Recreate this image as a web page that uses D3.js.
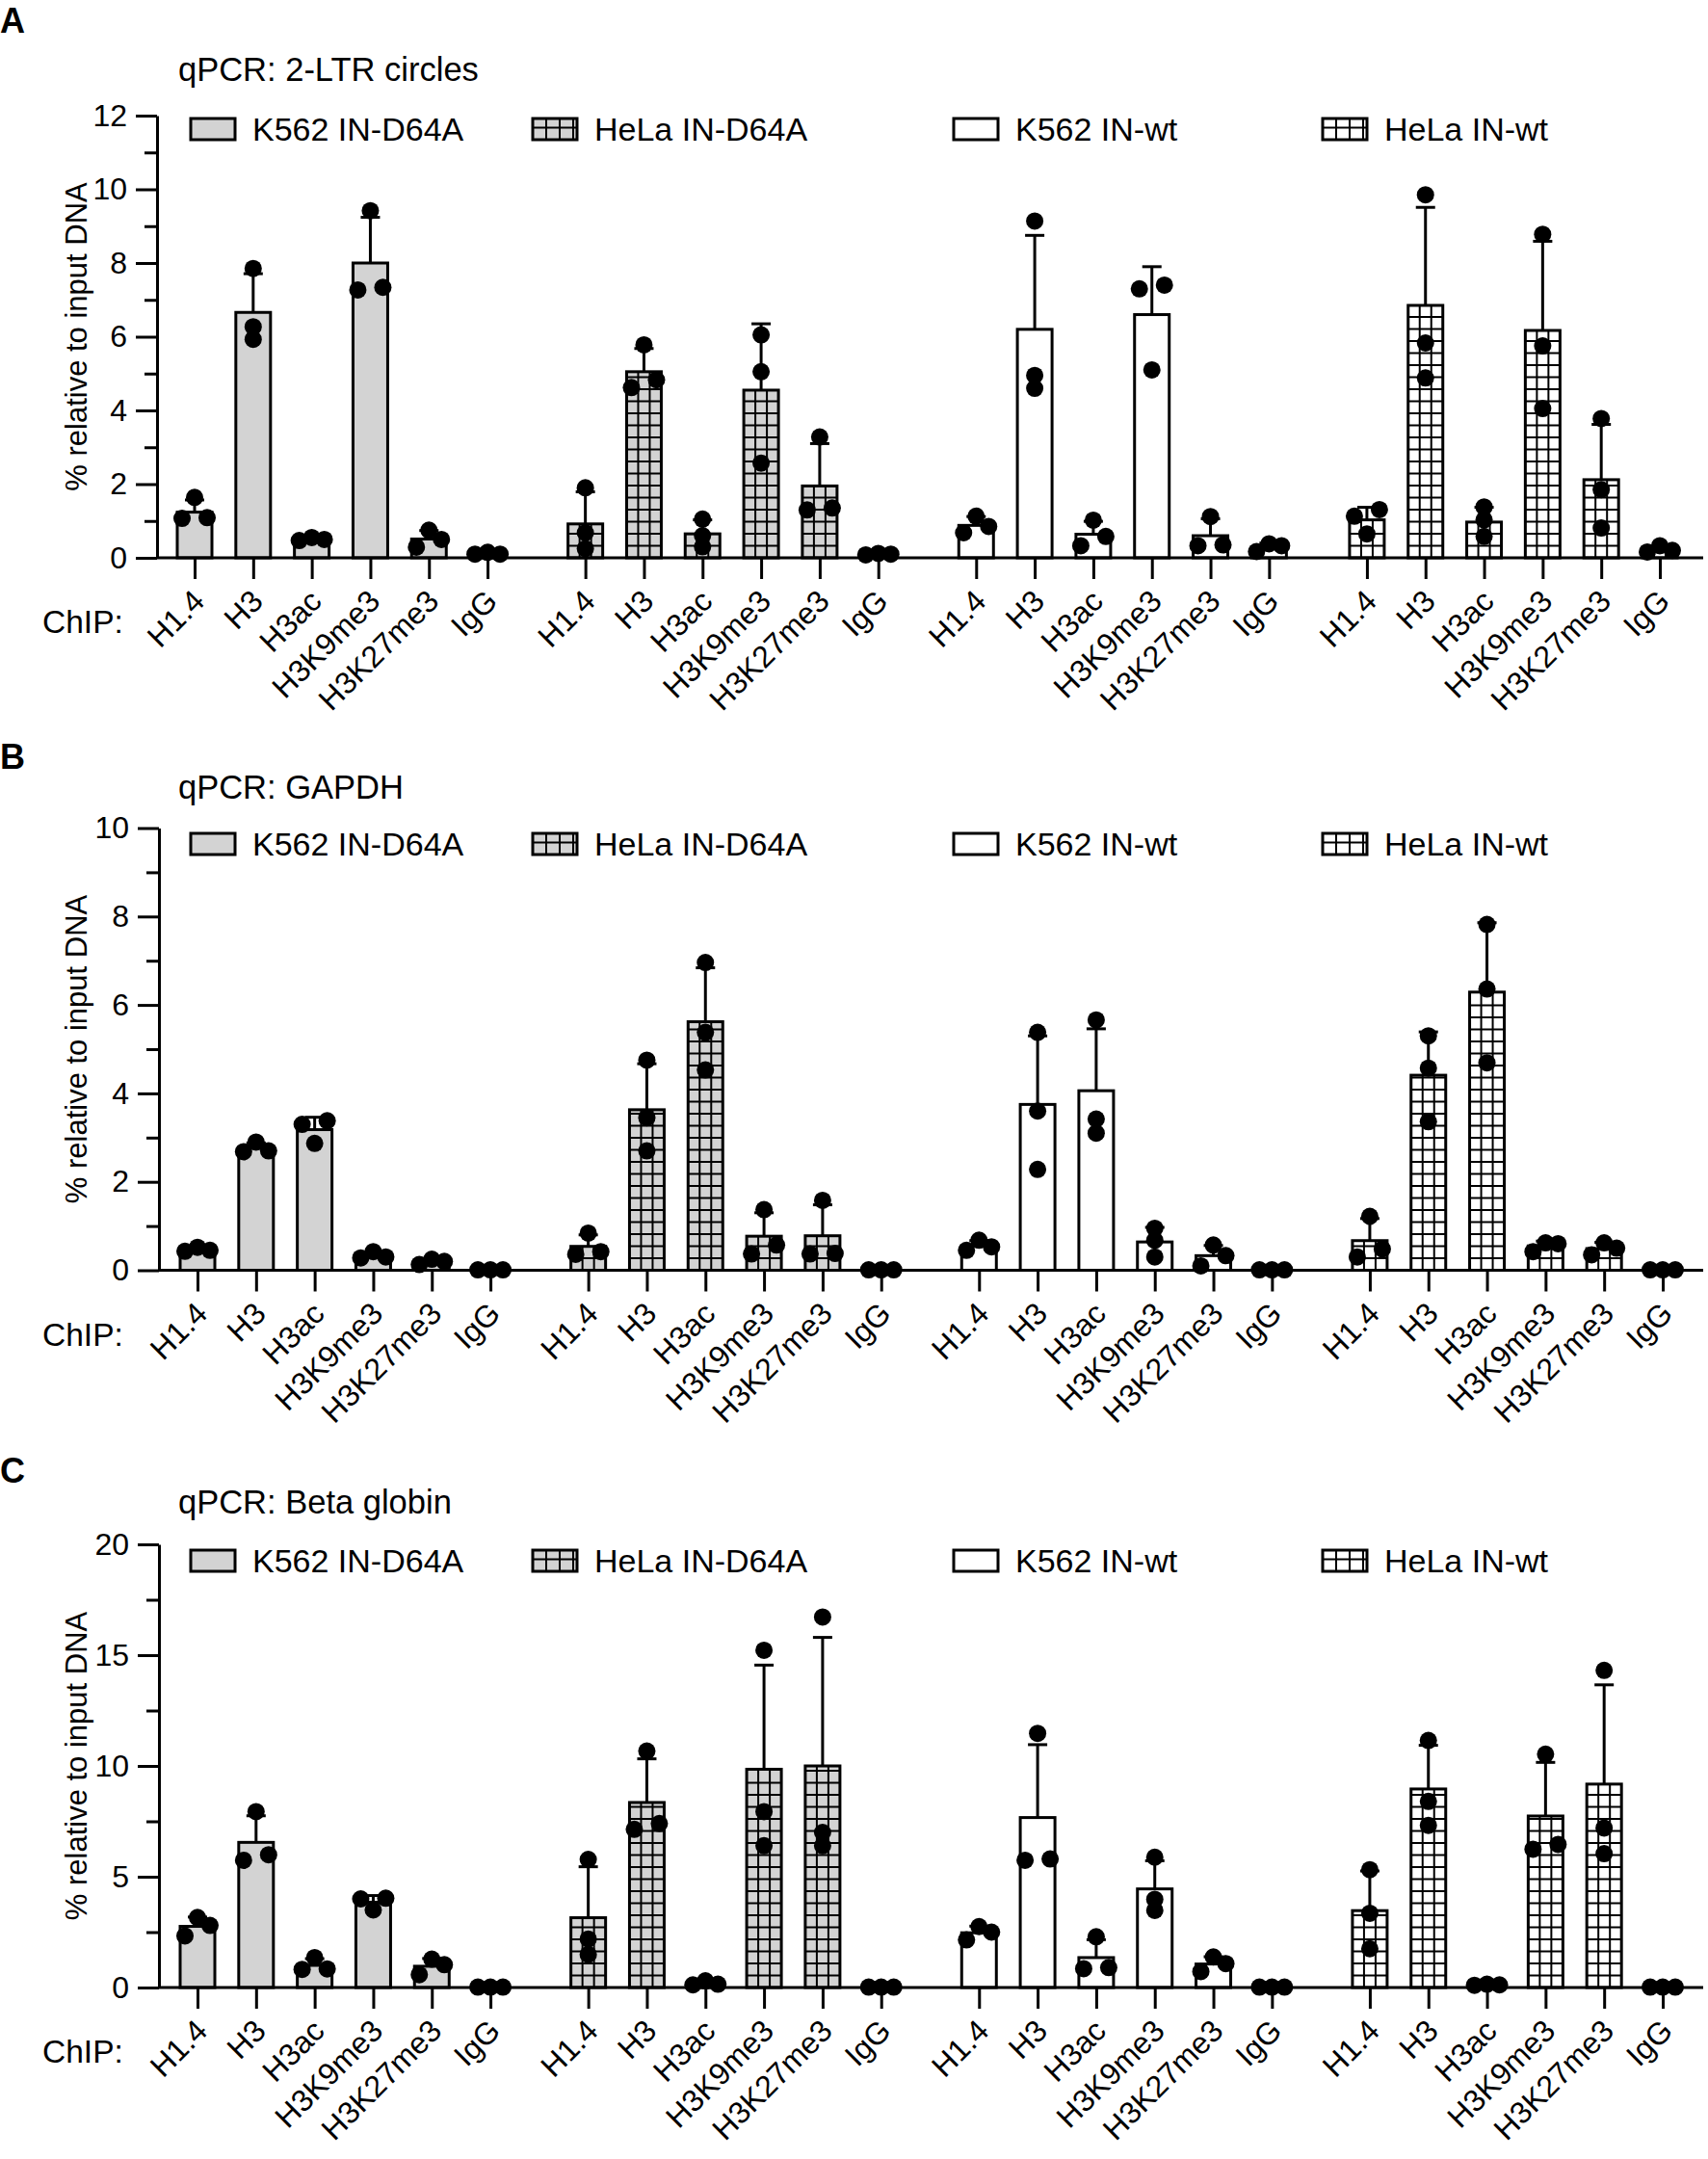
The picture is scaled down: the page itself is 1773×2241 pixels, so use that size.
<!DOCTYPE html>
<html>
<head>
<meta charset="utf-8">
<title>ChIP qPCR</title>
<script src="https://d3js.org/d3.v7.min.js"></script>
<style>
  body { margin: 0; background: #fff; }
  svg { display: block; font-family: "Liberation Sans", Arial, sans-serif; }
</style>
</head>
<body>
<div id="chart"></div>
<script>
// ChIP targets (x categories) and the four samples (bar groups)
const categories = ['H1.4', 'H3', 'H3ac', 'H3K9me3', 'H3K27me3', 'IgG'];
const seriesNames = ['K562 IN-D64A', 'HeLa IN-D64A', 'K562 IN-wt', 'HeLa IN-wt'];

// A: qPCR 2-LTR circles  (mean, SD, replicate points per sample x ChIP)
const ltrMeans = [
  [1.24, 6.66, 0.51, 8.0, 0.51, 0.12],
  [0.92, 5.05, 0.65, 4.55, 1.95, 0.1],
  [0.88, 6.2, 0.64, 6.6, 0.6, 0.29],
  [1.03, 6.85, 0.97, 6.17, 2.12, 0.24]
];
const ltrSD = [
  [0.33, 1.05, 0.04, 1.24, 0.23, 0.03],
  [0.87, 0.63, 0.38, 1.8, 1.15, 0.02],
  [0.24, 2.55, 0.35, 1.3, 0.46, 0.11],
  [0.34, 2.66, 0.4, 2.42, 1.5, 0.08]
];
const ltrPoints = [
  [[1.07, 1.64, 1.09], [5.93, 7.85, 6.27], [0.47, 0.55, 0.5], [7.27, 9.42, 7.34], [0.75, 0.29, 0.5], [0.1, 0.15, 0.1]],
  [[1.9, 0.68, 0.25], [4.62, 5.78, 4.83], [1.05, 0.6, 0.3], [6.05, 5.05, 2.57], [3.28, 1.3, 1.35], [0.08, 0.12, 0.1]],
  [[1.13, 0.68, 0.85], [9.14, 4.95, 4.6], [1.02, 0.33, 0.58], [7.4, 7.3, 5.1], [1.12, 0.35, 0.33], [0.17, 0.38, 0.33]],
  [[1.31, 0.65, 1.13], [9.85, 5.83, 4.88], [1.38, 1.03, 0.58], [8.78, 5.75, 4.05], [3.78, 1.85, 0.81], [0.16, 0.33, 0.2]]
];

// B: qPCR GAPDH
const gapdhMeans = [
  [0.47, 2.76, 3.18, 0.33, 0.19, 0.01],
  [0.54, 3.63, 5.62, 0.77, 0.78, 0.01],
  [0.55, 3.75, 4.06, 0.64, 0.33, 0.01],
  [0.67, 4.41, 6.29, 0.55, 0.49, 0.01]
];
const gapdhSD = [
  [0.05, 0.12, 0.28, 0.07, 0.06, 0.005],
  [0.26, 1.04, 1.22, 0.53, 0.7, 0.005],
  [0.12, 1.55, 1.4, 0.33, 0.23, 0.005],
  [0.5, 0.98, 1.57, 0.11, 0.14, 0.005]
];
const gapdhPoints = [
  [[0.43, 0.52, 0.45], [2.68, 2.9, 2.7], [3.38, 3.3, 2.87], [0.28, 0.42, 0.3], [0.13, 0.25, 0.2], [0.01, 0.01, 0.01]],
  [[0.84, 0.36, 0.42], [4.75, 3.45, 2.7], [6.96, 5.38, 4.53], [1.37, 0.37, 0.57], [1.58, 0.37, 0.38], [0.01, 0.01, 0.01]],
  [[0.45, 0.68, 0.53], [5.38, 3.6, 2.28], [5.66, 3.42, 3.1], [0.95, 0.68, 0.3], [0.57, 0.33, 0.1], [0.01, 0.01, 0.01]],
  [[1.22, 0.3, 0.48], [5.3, 4.57, 3.36], [7.82, 6.36, 4.69], [0.42, 0.62, 0.6], [0.62, 0.35, 0.5], [0.01, 0.01, 0.01]]
];

// C: qPCR Beta globin
const globinMeans = [
  [2.76, 6.55, 1.0, 3.85, 0.96, 0.02],
  [3.15, 8.35, 0.19, 9.85, 10.0, 0.02],
  [2.47, 7.67, 1.35, 4.45, 1.06, 0.02],
  [3.47, 8.96, 0.12, 7.74, 9.18, 0.02]
];
const globinSD = [
  [0.42, 1.2, 0.3, 0.3, 0.35, 0.01],
  [2.3, 1.97, 0.1, 4.7, 5.8, 0.01],
  [0.3, 3.29, 0.81, 1.27, 0.33, 0.01],
  [1.79, 1.97, 0.03, 2.42, 4.48, 0.01]
];
const globinPoints = [
  [[3.16, 2.33, 2.8], [7.94, 5.74, 5.99], [1.35, 0.82, 0.84], [3.5, 4.03, 4.0], [1.28, 0.58, 1.03], [0.02, 0.02, 0.02]],
  [[5.78, 2.19, 1.49], [10.67, 7.14, 7.4], [0.12, 0.3, 0.15], [15.22, 7.94, 6.4], [16.72, 6.4, 7.0], [0.02, 0.02, 0.02]],
  [[2.15, 2.75, 2.5], [11.47, 5.74, 5.8], [2.29, 0.85, 0.9], [5.88, 3.48, 3.98], [1.38, 0.72, 1.08], [0.02, 0.02, 0.02]],
  [[5.32, 3.35, 1.75], [11.15, 8.4, 7.32], [0.1, 0.15, 0.12], [10.53, 6.24, 6.46], [14.31, 7.2, 6.04], [0.02, 0.02, 0.02]]
];

const width = 1773, height = 2241;
const svg = d3.select('#chart').append('svg')
  .attr('width', width)
  .attr('height', height);

// sample styles: fill colour and whether the bar carries the grid hatch
const fills = ['#d3d3d3', '#d3d3d3', '#ffffff', '#ffffff'];
const gridded = [false, true, false, true];

const panels = [
  { key: 'A', title: 'qPCR: 2-LTR circles', means: ltrMeans, sd: ltrSD, points: ltrPoints,
    yMax: 12, major: 2, minor: 1, top: 120, bottom: 579, axisX: 163, x0: 202, x1: 1723,
    letterY: 34, titleY: 84, legendY: 134 },
  { key: 'B', title: 'qPCR: GAPDH', means: gapdhMeans, sd: gapdhSD, points: gapdhPoints,
    yMax: 10, major: 2, minor: 1, top: 859.5, bottom: 1318.5, axisX: 165, x0: 205, x1: 1726,
    letterY: 798, titleY: 829, legendY: 876 },
  { key: 'C', title: 'qPCR: Beta globin', means: globinMeans, sd: globinSD, points: globinPoints,
    yMax: 20, major: 5, minor: 2.5, top: 1603, bottom: 2063, axisX: 165, x0: 205, x1: 1726,
    letterY: 1539, titleY: 1571, legendY: 1620 }
];

const groupSlots = 6.67;             // 6 bars + gap between sample groups
const slot = (g, i) => g * groupSlots + i;
const barW = 36, capW = 20, dotR = 9, spread = 13, gridStep = 12.5;
const legendX = [198, 553, 990, 1373];

// draw grid hatch inside a rectangle (vertical thirds, horizontal every gridStep from bottom)
function hatch(sel, x, y, w, h, vStep) {
  const xs = vStep ? d3.range(x + vStep, x + w - 2, vStep) : [x + w / 3, x + 2 * w / 3];
  xs.forEach(vx => sel.append('line')
    .attr('x1', vx).attr('x2', vx).attr('y1', y).attr('y2', y + h));
  for (let hy = y + h - gridStep; hy > y + 2; hy -= gridStep) {
    sel.append('line').attr('x1', x).attr('x2', x + w).attr('y1', hy).attr('y2', hy);
  }
}

// spread replicate dots that would overlap: highest in the middle, then right, then left
function dotLayout(vals, y) {
  const sorted = vals.map(v => ({ v, py: y(v) })).sort((a, b) => a.py - b.py);
  const clusters = [];
  sorted.forEach(d => {
    const last = clusters[clusters.length - 1];
    if (last && d.py - last[last.length - 1].py < 11) last.push(d);
    else clusters.push([d]);
  });
  const offsets = { 1: [0], 2: [spread, -spread], 3: [0, spread, -spread] };
  const out = [];
  clusters.forEach(c => c.forEach((d, i) => out.push({ v: d.v, dx: offsets[c.length][i] })));
  return out;
}

panels.forEach(p => {
  const g = svg.append('g');
  const y = d3.scaleLinear().domain([0, p.yMax]).range([p.bottom, p.top]);
  const x = d3.scaleLinear().domain([0, slot(3, 5)]).range([p.x0, p.x1]);

  g.append('text')
    .attr('x', 0).attr('y', p.letterY)
    .attr('font-size', 36).attr('font-weight', 'bold')
    .text(p.key);

  g.append('text')
    .attr('x', 185).attr('y', p.titleY)
    .attr('font-size', 34.5)
    .text(p.title);

  // legend
  seriesNames.forEach((s, gi) => {
    const lg = g.append('g');
    lg.append('rect')
      .attr('x', legendX[gi]).attr('y', p.legendY - 11)
      .attr('width', 46).attr('height', 22)
      .attr('fill', fills[gi]);
    if (gridded[gi]) {
      const hg = lg.append('g').attr('stroke', '#000').attr('stroke-width', 2);
      hatch(hg, legendX[gi], p.legendY - 11, 46, 22, 14);
    }
    lg.append('rect')
      .attr('x', legendX[gi]).attr('y', p.legendY - 11)
      .attr('width', 46).attr('height', 22)
      .attr('fill', 'none').attr('stroke', '#000').attr('stroke-width', 3);
    lg.append('text')
      .attr('x', legendX[gi] + 64).attr('y', p.legendY + 12)
      .attr('font-size', 34)
      .text(s);
  });

  const rows = [];
  seriesNames.forEach((s, gi) => categories.forEach((c, ci) => rows.push({
    gi, ci, cx: x(slot(gi, ci)),
    mean: p.means[gi][ci], sd: p.sd[gi][ci], pts: p.points[gi][ci]
  })));

  // bars
  rows.forEach(r => {
    const top = y(r.mean), h = y(0) - y(r.mean);
    const bx = r.cx - barW / 2;
    g.append('rect')
      .attr('x', bx).attr('y', top).attr('width', barW).attr('height', h)
      .attr('fill', fills[r.gi]);
    if (gridded[r.gi]) {
      const hg = g.append('g').attr('stroke', '#000').attr('stroke-width', 2);
      hatch(hg, bx, top, barW, h);
    }
    g.append('rect')
      .attr('x', bx).attr('y', top).attr('width', barW).attr('height', h)
      .attr('fill', 'none').attr('stroke', '#000').attr('stroke-width', 3);
  });

  // error bars (mean + SD)
  const eb = g.append('g').attr('stroke', '#000').attr('stroke-width', 3);
  eb.selectAll('line.v').data(rows).join('line')
    .attr('x1', d => d.cx).attr('x2', d => d.cx)
    .attr('y1', d => y(d.mean)).attr('y2', d => y(d.mean + d.sd));
  eb.selectAll('line.cap').data(rows).join('line')
    .attr('x1', d => d.cx - capW / 2).attr('x2', d => d.cx + capW / 2)
    .attr('y1', d => y(d.mean + d.sd)).attr('y2', d => y(d.mean + d.sd));

  // replicate dots
  rows.forEach(r => {
    g.selectAll(null).data(dotLayout(r.pts, y)).join('circle')
      .attr('cx', d => r.cx + d.dx)
      .attr('cy', d => y(d.v))
      .attr('r', dotR)
      .attr('fill', '#000');
  });

  // x axis line and ticks
  g.append('line')
    .attr('x1', p.axisX).attr('x2', 1768)
    .attr('y1', y(0)).attr('y2', y(0))
    .attr('stroke', '#000').attr('stroke-width', 3);

  const xAxis = g.append('g')
    .attr('transform', `translate(0,${y(0)})`)
    .call(d3.axisBottom(x).tickValues(rows.map(r => slot(r.gi, r.ci))).tickSize(22).tickFormat(''));
  xAxis.select('.domain').remove();
  xAxis.selectAll('line').attr('stroke-width', 3);

  // y axis, major and minor ticks
  const majors = d3.range(0, p.yMax + 1e-6, p.major);
  const minors = d3.range(0, p.yMax + 1e-6, p.minor).filter(v => !majors.some(m => Math.abs(m - v) < 1e-6));
  const yAxis = g.append('g')
    .attr('transform', `translate(${p.axisX},0)`)
    .call(d3.axisLeft(y).tickValues(majors).tickSize(22).tickPadding(9).tickSizeOuter(0));
  yAxis.select('.domain').attr('stroke-width', 3);
  yAxis.selectAll('line').attr('stroke-width', 3);
  yAxis.selectAll('text').attr('font-size', 32).attr('font-family', null).attr('fill', '#000');

  const yMinor = g.append('g')
    .attr('transform', `translate(${p.axisX},0)`)
    .call(d3.axisLeft(y).tickValues(minors).tickSize(13).tickFormat(''));
  yMinor.select('.domain').remove();
  yMinor.selectAll('line').attr('stroke-width', 3);

  g.append('text')
    .attr('transform', `translate(90,${(p.top + p.bottom) / 2}) rotate(-90)`)
    .attr('text-anchor', 'middle')
    .attr('font-size', 31)
    .text('% relative to input DNA');

  // category labels
  g.append('text')
    .attr('x', 44).attr('y', y(0) + 78)
    .attr('font-size', 33.5)
    .text('ChIP:');

  g.selectAll(null).data(rows).join('text')
    .attr('transform', d => `translate(${d.cx + 12},${y(0) + 47}) rotate(-45)`)
    .attr('text-anchor', 'end')
    .attr('font-size', 32)
    .text(d => categories[d.ci]);
});
</script>
</body>
</html>
